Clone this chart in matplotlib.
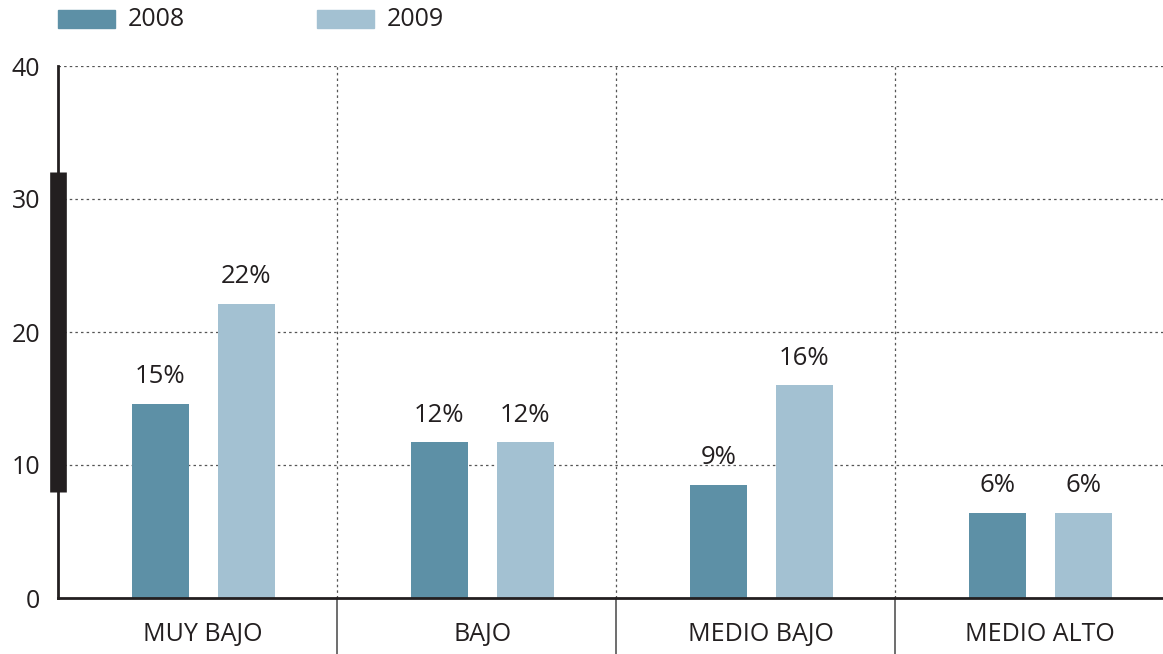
import numpy as np
import matplotlib.pyplot as plt

plt.rcParams['font.family'] = ['Open Sans', 'DejaVu Sans']

# data
categories = ["MUY BAJO", "BAJO", "MEDIO BAJO", "MEDIO ALTO"]
values_2008 = [14.6, 11.7, 8.5, 6.4]
values_2009 = [22.1, 11.7, 16.0, 6.4]
labels_2008 = ["15%", "12%", "9%", "6%"]
labels_2009 = ["22%", "12%", "16%", "6%"]
y_ticks = [0, 10, 20, 30, 40]

color_2008 = "#5d90a6"
color_2009 = "#a3c1d2"
ink = "#231f20"

fig = plt.figure(figsize=(11.63, 6.54), dpi=100)
ax = fig.add_axes([58 / 1163, 56 / 654, 1105 / 1163, 532 / 654])

x = np.arange(len(categories)) + 0.5
w = 0.204
off = 0.154
shift = 0.02

b1 = ax.bar(x - off + shift, values_2008, w, color=color_2008, zorder=3)
b2 = ax.bar(x + off + shift, values_2009, w, color=color_2009, zorder=3)

for rect, lab in zip(b1, labels_2008):
    ax.text(rect.get_x() + rect.get_width() / 2, rect.get_height() + 1.1, lab,
            ha="center", va="bottom", fontsize=18.5, color=ink)
for rect, lab in zip(b2, labels_2009):
    ax.text(rect.get_x() + rect.get_width() / 2, rect.get_height() + 1.1, lab,
            ha="center", va="bottom", fontsize=18.5, color=ink)

ax.set_xlim(0, 3.96)
ax.set_ylim(0, 40)

# dotted grid
for yv in y_ticks[1:]:
    ax.axhline(yv, color="#555555", lw=0.9, ls=(0, (2, 2.5)), zorder=1)
for xv in range(1, len(categories)):
    ax.axvline(xv, ymin=0, ymax=1, color="#555555", lw=0.9, ls=(0, (2, 2.5)), zorder=1)
    # solid separators under the axis
    ax.axvline(xv, ymin=-0.11, ymax=0, color="#555555", lw=1.2, clip_on=False)

for s in ["top", "right"]:
    ax.spines[s].set_visible(False)
ax.spines["left"].set_color(ink)
ax.spines["left"].set_linewidth(2)
ax.spines["bottom"].set_color(ink)
ax.spines["bottom"].set_linewidth(2)
ax.spines["bottom"].set_zorder(4)

# thick marker on the y axis
ax.plot([0, 0], [8, 32], color=ink, lw=12, solid_capstyle="butt", clip_on=False, zorder=5)

ax.set_yticks(y_ticks)
ax.set_yticklabels([str(t) for t in y_ticks], fontsize=18, color=ink)
ax.tick_params(axis="y", length=0, pad=13)
ax.set_xticks(x + shift)
ax.set_xticklabels(categories, fontsize=18, color=ink)
ax.tick_params(axis="x", length=0, pad=17)

# legend
fig.patches.append(plt.Rectangle((58 / 1163, 1 - 28 / 654), 57 / 1163, 18 / 654,
                                 transform=fig.transFigure, color=color_2008))
fig.text(128 / 1163, 1 - 19 / 654, "2008", fontsize=18, color=ink, va="center")
fig.patches.append(plt.Rectangle((317 / 1163, 1 - 28 / 654), 57 / 1163, 18 / 654,
                                 transform=fig.transFigure, color=color_2009))
fig.text(387 / 1163, 1 - 19 / 654, "2009", fontsize=18, color=ink, va="center")

fig.savefig("out.png", dpi=100)
